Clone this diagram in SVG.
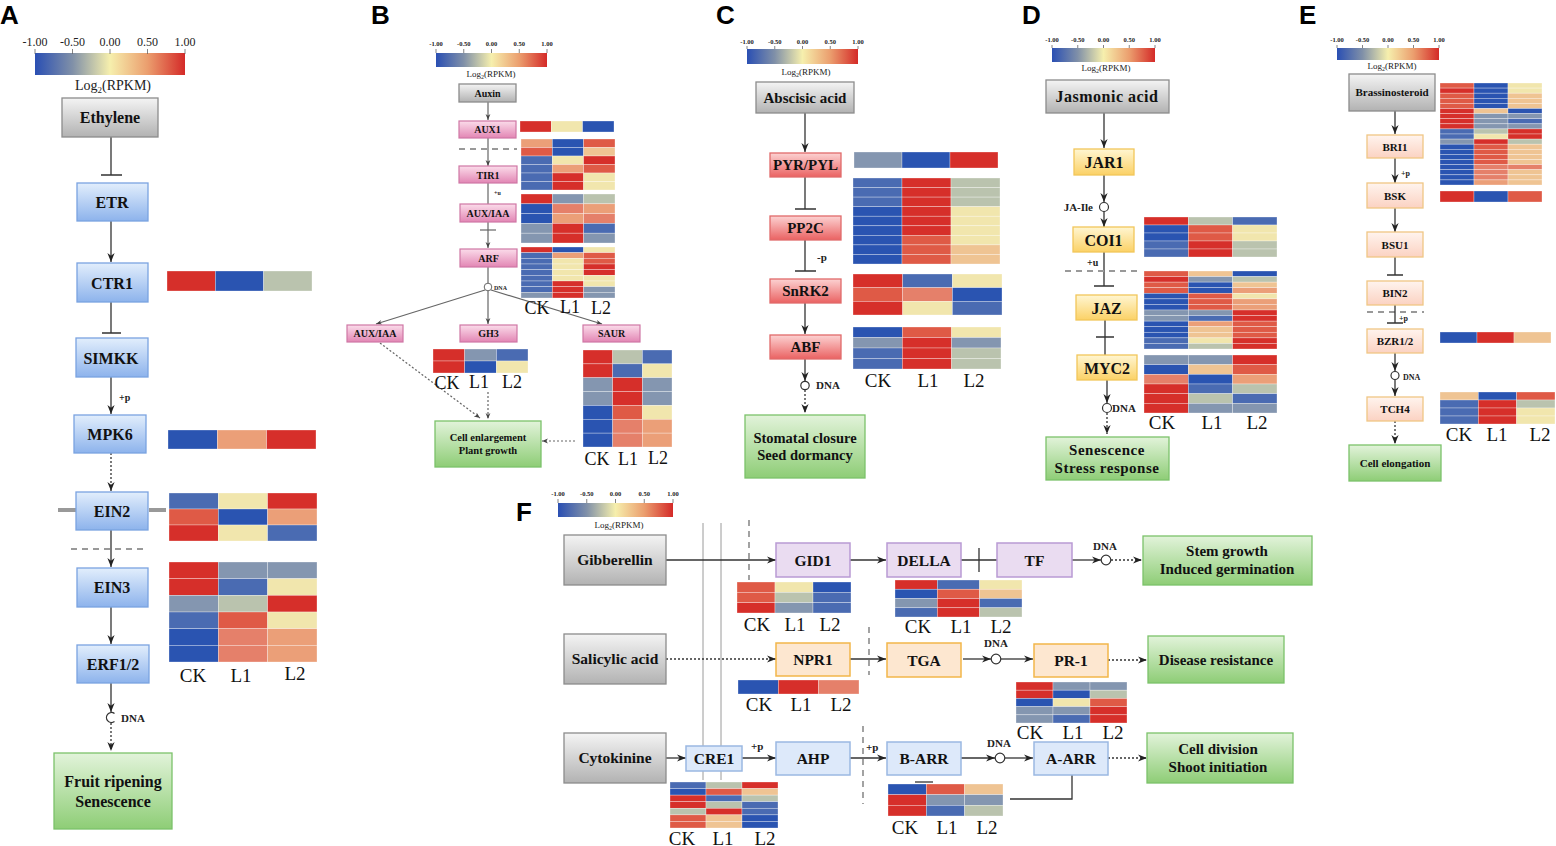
<svg xmlns="http://www.w3.org/2000/svg" width="1556" height="846" viewBox="0 0 1556 846">
<defs>
<linearGradient id="cb" x1="0" y1="0" x2="1" y2="0"><stop offset="0" stop-color="#2a4fb3"/><stop offset=".25" stop-color="#8090a8"/><stop offset=".5" stop-color="#f6efad"/><stop offset=".75" stop-color="#eb9e6e"/><stop offset="1" stop-color="#d42a28"/></linearGradient>
<linearGradient id="gGray" x1="0" y1="0" x2="0" y2="1"><stop offset="0" stop-color="#f4f4f4"/><stop offset="1" stop-color="#b2b2b2"/></linearGradient>
<linearGradient id="gBlue" x1="0" y1="0" x2="0" y2="1"><stop offset="0" stop-color="#e2eefc"/><stop offset="1" stop-color="#8db3ec"/></linearGradient>
<linearGradient id="gPink" x1="0" y1="0" x2="0" y2="1"><stop offset="0" stop-color="#fbdcea"/><stop offset="1" stop-color="#e286b4"/></linearGradient>
<linearGradient id="gRed" x1="0" y1="0" x2="0" y2="1"><stop offset="0" stop-color="#fcd2d2"/><stop offset="1" stop-color="#ea6262"/></linearGradient>
<linearGradient id="gYel" x1="0" y1="0" x2="0" y2="1"><stop offset="0" stop-color="#fff6d2"/><stop offset="1" stop-color="#fbd166"/></linearGradient>
<linearGradient id="gPeach" x1="0" y1="0" x2="0" y2="1"><stop offset="0" stop-color="#fff4ee"/><stop offset="1" stop-color="#fbd2c2"/></linearGradient>
<linearGradient id="gGreen" x1="0" y1="0" x2="0" y2="1"><stop offset="0" stop-color="#e2f3da"/><stop offset="1" stop-color="#8ecd76"/></linearGradient>
<marker id="ar" viewBox="0 0 10 10" refX="10" refY="5" markerWidth="9" markerHeight="9" markerUnits="userSpaceOnUse" orient="auto"><path d="M0,1 L10,5 L0,9 L3,5 z" fill="#222"/></marker>
<marker id="ars" viewBox="0 0 10 10" refX="10" refY="5" markerWidth="6" markerHeight="6" markerUnits="userSpaceOnUse" orient="auto"><path d="M0,1 L10,5 L0,9 L3,5 z" fill="#444"/></marker>
</defs>
<style>
.pl{font-family:"Liberation Sans",Arial,sans-serif;font-weight:bold;font-size:26px;fill:#000}
.n{font-family:"Liberation Serif","Times New Roman",serif;font-weight:bold;text-anchor:middle;fill:#111}
.lb{font-family:"Liberation Serif","Times New Roman",serif;text-anchor:middle;fill:#111}
.tk{font-family:"Liberation Serif","Times New Roman",serif;text-anchor:middle;fill:#222}
.sm{font-family:"Liberation Serif","Times New Roman",serif;font-weight:bold;fill:#222}
.ln{stroke:#333;stroke-width:1.3;fill:none}
.lg{stroke:#666;stroke-width:1.2;fill:none}
.dt{stroke-dasharray:2 2}
.ah{marker-end:url(#ar)}
.as{marker-end:url(#ars)}
.dash{stroke:#999;stroke-width:1.8;fill:none;stroke-dasharray:6 5}
.tick{stroke:#666;stroke-width:.8}
.gray{fill:url(#gGray);stroke:#8c8c8c;stroke-width:1.3}
.blue{fill:url(#gBlue);stroke:#7aa3e0;stroke-width:1.3}
.pink{fill:url(#gPink);stroke:#cf77a5;stroke-width:1.2}
.red{fill:url(#gRed);stroke:#e06a6a;stroke-width:1.3}
.yel{fill:url(#gYel);stroke:#f2c65a;stroke-width:1.3}
.peach{fill:url(#gPeach);stroke:#f0c684;stroke-width:1.3}
.green{fill:url(#gGreen);stroke:#7cc26a;stroke-width:1.3}
.fpur{fill:#eadcf1;stroke:#b99ad4;stroke-width:1.5}
.forg{fill:#fde7d0;stroke:#f2b64a;stroke-width:1.5}
.fblu{fill:#dde9fa;stroke:#9ab8e2;stroke-width:1.5}
.hm rect{stroke:#fff;stroke-opacity:.5;stroke-width:.6}
.R{fill:#d62f2a}.r{fill:#df5a46}.o{fill:#e5806a}.O{fill:#eb9f78}.P{fill:#efc493}.Y{fill:#f1e6ad}.S{fill:#bac3ae}.G{fill:#8496b0}.b{fill:#4a6bb2}.B{fill:#2a54b1}
</style>
<rect width="1556" height="846" fill="#fff"/>

<!-- panel letters -->
<text class="pl" x="0" y="24">A</text>
<text class="pl" x="371" y="24">B</text>
<text class="pl" x="716" y="24">C</text>
<text class="pl" x="1022" y="24">D</text>
<text class="pl" x="1299" y="24">E</text>
<text class="pl" x="516" y="521">F</text>

<!-- legends -->
<g id="legendA">
<rect x="35" y="53" width="150" height="22" fill="url(#cb)"/>
<path class="tick" d="M35,49v5M72.5,49v5M110,49v5M147.5,49v5M185,49v5"/>
<g class="tk" font-size="12"><text x="35" y="46">-1.00</text><text x="72.5" y="46">-0.50</text><text x="110" y="46">0.00</text><text x="147.5" y="46">0.50</text><text x="185" y="46">1.00</text></g>
<text class="tk" x="113" y="90" font-size="14">Log<tspan font-size="9" dy="3">2</tspan><tspan dy="-3">(RPKM)</tspan></text>
</g>
<g id="legendB">
<rect x="436" y="53" width="111" height="14" fill="url(#cb)"/>
<path class="tick" d="M436,49v4M463.75,49v4M491.5,49v4M519.25,49v4M547,49v4"/>
<g class="tk" font-size="6.5" font-weight="bold"><text x="436" y="46">-1.00</text><text x="463.75" y="46">-0.50</text><text x="491.5" y="46">0.00</text><text x="519.25" y="46">0.50</text><text x="547" y="46">1.00</text></g>
<text class="tk" x="491" y="77" font-size="9">Log<tspan font-size="6" dy="2">2</tspan><tspan dy="-2">(RPKM)</tspan></text>
</g>
<g id="legendC">
<rect x="747" y="49" width="111" height="15" fill="url(#cb)"/>
<path class="tick" d="M747,46v3M774.75,46v3M802.5,46v3M830.25,46v3M858,46v3"/>
<g class="tk" font-size="6.5" font-weight="bold"><text x="747" y="44">-1.00</text><text x="774.75" y="44">-0.50</text><text x="802.5" y="44">0.00</text><text x="830.25" y="44">0.50</text><text x="858" y="44">1.00</text></g>
<text class="tk" x="806" y="75" font-size="9">Log<tspan font-size="6" dy="2">2</tspan><tspan dy="-2">(RPKM)</tspan></text>
</g>
<g id="legendD">
<rect x="1052" y="48" width="103" height="14" fill="url(#cb)"/>
<path class="tick" d="M1052,45v3M1077.75,45v3M1103.5,45v3M1129.25,45v3M1155,45v3"/>
<g class="tk" font-size="6.5" font-weight="bold"><text x="1052" y="42">-1.00</text><text x="1077.75" y="42">-0.50</text><text x="1103.5" y="42">0.00</text><text x="1129.25" y="42">0.50</text><text x="1155" y="42">1.00</text></g>
<text class="tk" x="1106" y="71" font-size="9">Log<tspan font-size="6" dy="2">2</tspan><tspan dy="-2">(RPKM)</tspan></text>
</g>
<g id="legendE">
<rect x="1337" y="48" width="102" height="12" fill="url(#cb)"/>
<path class="tick" d="M1337,45v3M1362.5,45v3M1388,45v3M1413.5,45v3M1439,45v3"/>
<g class="tk" font-size="6.5" font-weight="bold"><text x="1337" y="42">-1.00</text><text x="1362.5" y="42">-0.50</text><text x="1388" y="42">0.00</text><text x="1413.5" y="42">0.50</text><text x="1439" y="42">1.00</text></g>
<text class="tk" x="1392" y="69" font-size="9">Log<tspan font-size="6" dy="2">2</tspan><tspan dy="-2">(RPKM)</tspan></text>
</g>
<g id="legendF">
<rect x="558" y="503" width="115" height="14" fill="url(#cb)"/>
<path class="tick" d="M558,499v4M586.75,499v4M615.5,499v4M644.25,499v4M673,499v4"/>
<g class="tk" font-size="6.5" font-weight="bold"><text x="558" y="496">-1.00</text><text x="586.75" y="496">-0.50</text><text x="615.5" y="496">0.00</text><text x="644.25" y="496">0.50</text><text x="673" y="496">1.00</text></g>
<text class="tk" x="619" y="528" font-size="9">Log<tspan font-size="6" dy="2">2</tspan><tspan dy="-2">(RPKM)</tspan></text>
</g>

<!-- connectors -->
<g id="connectors">
<!-- A -->
<path class="ln" d="M111,137V175M101,175H122"/>
<path class="ln ah" d="M111,221V262"/>
<path class="ln" d="M111,302V333M102,333H121"/>
<path class="ln ah" d="M111,377V414"/>
<path class="ln dt ah" d="M111,453V491"/>
<path d="M58,510H76M149,510H166" stroke="#999" stroke-width="4"/>
<path class="dash" d="M71,549H144"/>
<path class="ln ah" d="M111,530V567"/>
<path class="ln ah" d="M111,607V644"/>
<path class="ln ah" d="M111,683V712"/>
<path class="ln" d="M114.5,713.5A5,5 0 1,0 114.5,721.5"/>
<path class="ln dt ah" d="M111,723V751"/>
<!-- B -->
<path class="lg as" d="M488,102V120"/>
<path class="dash" d="M459,149H517" stroke-width="1.2" stroke-dasharray="5 4"/>
<path class="lg as" d="M488,138V166"/>
<path class="lg" d="M488,183V204"/>
<path class="lg as" d="M488,222V248"/>
<path class="lg" d="M480,230H496"/>
<path class="lg" d="M488,267V283"/>
<circle cx="488" cy="287" r="3.8" fill="#fff" stroke="#666" stroke-width="1"/>
<path class="lg as" d="M485,290L376,324"/>
<path class="lg as" d="M488,291V324"/>
<path class="lg as" d="M491,290L602,324"/>
<path class="lg dt as" d="M380,343L480,418"/>
<path class="lg dt as" d="M488,392V419"/>
<path class="lg dt as" d="M575,441H542"/>
<!-- C -->
<path class="ln ah" d="M805,113V152"/>
<path class="ln" d="M805,177V209M795,209H816"/>
<path class="ln" d="M805,240V271M795,271H816"/>
<path class="ln ah" d="M805,303V334"/>
<path class="ln ah" d="M805,359V381"/>
<circle cx="805" cy="385.5" r="4.2" fill="#fff" stroke="#333" stroke-width="1.2"/>
<path class="ln dt ah" d="M805,390V413"/>
<!-- D -->
<path class="ln ah" d="M1104,113V148"/>
<path class="ln ah" d="M1104,175V202"/>
<circle cx="1104" cy="207" r="4.5" fill="#fff" stroke="#333" stroke-width="1.2"/>
<path class="ln ah" d="M1104,211.5V227"/>
<path class="ln" d="M1104,252V286M1094,286H1114"/>
<path class="dash" d="M1065,271H1142"/>
<path class="ln" d="M1105,320V355M1096,337H1114"/>
<path class="ln ah" d="M1107,380V403"/>
<circle cx="1107" cy="408" r="4.5" fill="#fff" stroke="#333" stroke-width="1.2"/>
<path class="ln dt ah" d="M1107,413V434"/>
<!-- E -->
<path class="ln ah" d="M1395,111V134"/>
<path class="ln ah" d="M1395,158V183"/>
<path class="ln ah" d="M1395,208V232"/>
<path class="ln" d="M1395,257V275M1387,275H1403"/>
<path class="dash" d="M1367,312H1424" stroke-width="1.3"/>
<path class="ln" d="M1395,305V323M1387,323H1403"/>
<path class="ln ah" d="M1395,353V371"/>
<circle cx="1395" cy="375.5" r="4" fill="#fff" stroke="#333" stroke-width="1.2"/>
<path class="ln ah" d="M1395,380V396"/>
<path class="ln dt ah" d="M1395,421V444"/>
<!-- F -->
<path d="M703,523V780M721,523V780" stroke="#9a9a9a" stroke-width="1"/>
<path class="dash" d="M749,520V580"/>
<path class="dash" d="M869,627V675"/>
<path class="dash" d="M863,726V804"/>
<path class="ln ah" d="M666,560H776"/>
<path class="ln ah" d="M850,560H886"/>
<path class="ln" d="M961,560H997M979,548V572"/>
<path class="ln ah" d="M1072,560H1101"/>
<circle cx="1106" cy="560" r="4.8" fill="#fff" stroke="#333" stroke-width="1.2"/>
<path class="ln dt ah" d="M1111,560H1142"/>
<path class="ln dt ah" d="M666,659H776"/>
<path class="ln ah" d="M850,659H886"/>
<path class="ln ah" d="M963,659H991"/>
<circle cx="996" cy="659" r="4.8" fill="#fff" stroke="#333" stroke-width="1.2"/>
<path class="ln ah" d="M1001,659H1033"/>
<path class="ln dt ah" d="M1108,660H1147"/>
<path class="ln ah" d="M666,758H686"/>
<path class="ln ah" d="M742,758H776"/>
<path class="ln ah" d="M850,758H886"/>
<path class="ln ah" d="M961,758H995"/>
<circle cx="1000" cy="758" r="4.8" fill="#fff" stroke="#333" stroke-width="1.2"/>
<path class="ln ah" d="M1005,758H1033"/>
<path class="ln dt ah" d="M1108,758H1147"/>
<path class="ln" d="M1072,775V799H1010"/>
<path class="ln" d="M915,782H933"/>
</g>

<!-- small labels -->
<g id="edge-labels">
<text class="sm" x="119" y="401" font-size="10">+p</text>
<text class="sm" x="121" y="722" font-size="11">DNA</text>
<text class="sm" x="494" y="195" font-size="6">+u</text>
<text class="sm" x="494" y="290" font-size="6">DNA</text>
<text class="sm" x="817" y="261" font-size="11">-p</text>
<text class="sm" x="816" y="389" font-size="11">DNA</text>
<text class="sm" x="1093" y="211" font-size="11" text-anchor="end">JA-Ile</text>
<text class="sm" x="1087" y="266" font-size="10">+u</text>
<text class="sm" x="1112" y="412" font-size="11" font-weight="normal">DNA</text>
<text class="sm" x="1401" y="176" font-size="8">+p</text>
<text class="sm" x="1399" y="321" font-size="8">+p</text>
<text class="sm" x="1403" y="380" font-size="8">DNA</text>
<text class="sm" x="1105" y="550" font-size="11" text-anchor="middle">DNA</text>
<text class="sm" x="996" y="647" font-size="11" text-anchor="middle">DNA</text>
<text class="sm" x="999" y="747" font-size="11" text-anchor="middle">DNA</text>
<text class="sm" x="751" y="750" font-size="11">+p</text>
<text class="sm" x="866" y="751" font-size="11">+p</text>
</g>

<!-- Panel A nodes -->
<g id="A-Ethylene"><rect class="gray" x="62" y="98" width="96" height="39"/><text class="n" x="110" y="123" font-size="16">Ethylene</text></g>
<g id="A-ETR"><rect class="blue" x="77" y="183" width="71" height="38"/><text class="n" x="112" y="208" font-size="16">ETR</text></g>
<g id="A-CTR1"><rect class="blue" x="77" y="263" width="71" height="39"/><text class="n" x="112" y="289" font-size="16">CTR1</text></g>
<g id="A-SIMKK"><rect class="blue" x="76" y="338" width="72" height="39"/><text class="n" x="111" y="364" font-size="16">SIMKK</text></g>
<g id="A-MPK6"><rect class="blue" x="74" y="415" width="72" height="38"/><text class="n" x="110" y="440" font-size="16">MPK6</text></g>
<g id="A-EIN2"><rect class="blue" x="76" y="492" width="72" height="38"/><text class="n" x="112" y="517" font-size="16">EIN2</text></g>
<g id="A-EIN3"><rect class="blue" x="77" y="568" width="71" height="39"/><text class="n" x="112" y="593" font-size="16">EIN3</text></g>
<g id="A-ERF"><rect class="blue" x="77" y="645" width="72" height="38"/><text class="n" x="113" y="670" font-size="16">ERF1/2</text></g>
<g id="A-Fruit"><rect class="green" x="54" y="753" width="118" height="76"/><text class="n" x="113" y="787" font-size="16">Fruit ripening</text><text class="n" x="113" y="807" font-size="16">Senescence</text></g>

<!-- Panel B nodes -->
<g id="B-Auxin"><rect class="gray" x="459" y="84" width="57" height="18"/><text class="n" x="487.5" y="97" font-size="10">Auxin</text></g>
<g id="B-AUX1"><rect class="pink" x="459" y="121" width="57" height="17"/><text class="n" x="487.5" y="133" font-size="10">AUX1</text></g>
<g id="B-TIR1"><rect class="pink" x="459" y="166" width="58" height="17"/><text class="n" x="488" y="179" font-size="10">TIR1</text></g>
<g id="B-AUXIAA"><rect class="pink" x="460" y="204" width="56" height="18"/><text class="n" x="488" y="217" font-size="10">AUX/IAA</text></g>
<g id="B-ARF"><rect class="pink" x="460" y="249" width="57" height="18"/><text class="n" x="488.5" y="262" font-size="10">ARF</text></g>
<g id="B-AUXIAA2"><rect class="pink" x="347" y="325" width="56" height="17"/><text class="n" x="375" y="337" font-size="10">AUX/IAA</text></g>
<g id="B-GH3"><rect class="pink" x="460" y="325" width="57" height="17"/><text class="n" x="488.5" y="337" font-size="10">GH3</text></g>
<g id="B-SAUR"><rect class="pink" x="583" y="325" width="57" height="17"/><text class="n" x="611.5" y="337" font-size="10">SAUR</text></g>
<g id="B-Cell"><rect class="green" x="435" y="421" width="106" height="46"/><text class="n" x="488" y="441" font-size="10.5">Cell enlargement</text><text class="n" x="488" y="454" font-size="10.5">Plant growth</text></g>

<!-- Panel C nodes -->
<g id="C-ABA"><rect class="gray" x="756" y="82" width="98" height="31"/><text class="n" x="805" y="103" font-size="15">Abscisic acid</text></g>
<g id="C-PYR"><rect class="red" x="770" y="153" width="71" height="24"/><text class="n" x="805.5" y="170" font-size="15">PYR/PYL</text></g>
<g id="C-PP2C"><rect class="red" x="770" y="216" width="71" height="24"/><text class="n" x="805.5" y="233" font-size="15">PP2C</text></g>
<g id="C-SnRK2"><rect class="red" x="770" y="279" width="71" height="24"/><text class="n" x="805.5" y="296" font-size="15">SnRK2</text></g>
<g id="C-ABF"><rect class="red" x="770" y="335" width="71" height="24"/><text class="n" x="805.5" y="352" font-size="15">ABF</text></g>
<g id="C-Stomatal"><rect class="green" x="745" y="415" width="120" height="63"/><text class="n" x="805" y="443" font-size="14.5">Stomatal closure</text><text class="n" x="805" y="460" font-size="14.5">Seed dormancy</text></g>

<!-- Panel D nodes -->
<g id="D-JA"><rect class="gray" x="1046" y="80" width="123" height="33"/><text class="n" x="1107" y="102" font-size="16" letter-spacing=".5">Jasmonic acid</text></g>
<g id="D-JAR1"><rect class="yel" x="1074" y="149" width="60" height="26"/><text class="n" x="1104" y="168" font-size="16">JAR1</text></g>
<g id="D-COI1"><rect class="yel" x="1073" y="227" width="61" height="25"/><text class="n" x="1103.5" y="246" font-size="16">COI1</text></g>
<g id="D-JAZ"><rect class="yel" x="1076" y="295" width="61" height="25"/><text class="n" x="1106.5" y="314" font-size="16">JAZ</text></g>
<g id="D-MYC2"><rect class="yel" x="1077" y="355" width="60" height="25"/><text class="n" x="1107" y="374" font-size="16">MYC2</text></g>
<g id="D-Sen"><rect class="green" x="1046" y="437" width="123" height="43"/><text class="n" x="1107" y="455" font-size="15" letter-spacing=".5">Senescence</text><text class="n" x="1107" y="473" font-size="15" letter-spacing=".5">Stress response</text></g>

<!-- Panel E nodes -->
<g id="E-BR"><rect class="gray" x="1349" y="74" width="86" height="37"/><text class="n" x="1392" y="96" font-size="11">Brassinosteroid</text></g>
<g id="E-BRI1"><rect class="peach" x="1367" y="135" width="56" height="23"/><text class="n" x="1395" y="151" font-size="11">BRI1</text></g>
<g id="E-BSK"><rect class="peach" x="1367" y="183" width="56" height="25"/><text class="n" x="1395" y="200" font-size="11">BSK</text></g>
<g id="E-BSU1"><rect class="peach" x="1367" y="232" width="56" height="25"/><text class="n" x="1395" y="249" font-size="11">BSU1</text></g>
<g id="E-BIN2"><rect class="peach" x="1367" y="281" width="56" height="24"/><text class="n" x="1395" y="297" font-size="11">BIN2</text></g>
<g id="E-BZR"><rect class="peach" x="1367" y="329" width="56" height="24"/><text class="n" x="1395" y="345" font-size="11">BZR1/2</text></g>
<g id="E-TCH4"><rect class="peach" x="1367" y="397" width="56" height="24"/><text class="n" x="1395" y="413" font-size="11">TCH4</text></g>
<g id="E-Cell"><rect class="green" x="1349" y="445" width="92" height="36"/><text class="n" x="1395" y="467" font-size="11">Cell elongation</text></g>

<!-- Panel F nodes -->
<g id="F-Gib"><rect class="gray" x="564" y="535" width="102" height="50"/><text class="n" x="615" y="565" font-size="15.5">Gibberellin</text></g>
<g id="F-SA"><rect class="gray" x="564" y="634" width="102" height="50"/><text class="n" x="615" y="664" font-size="15.5">Salicylic acid</text></g>
<g id="F-CK"><rect class="gray" x="564" y="733" width="102" height="50"/><text class="n" x="615" y="763" font-size="15.5">Cytokinine</text></g>
<g id="F-GID1"><rect class="fpur" x="776" y="543" width="74" height="34"/><text class="n" x="813" y="566" font-size="15.5">GID1</text></g>
<g id="F-DELLA"><rect class="fpur" x="887" y="543" width="74" height="34"/><text class="n" x="924" y="566" font-size="15.5">DELLA</text></g>
<g id="F-TF"><rect class="fpur" x="997" y="543" width="75" height="34"/><text class="n" x="1034.5" y="566" font-size="15.5">TF</text></g>
<g id="F-Stem"><rect class="green" x="1143" y="536" width="169" height="49"/><text class="n" x="1227" y="556" font-size="15">Stem growth</text><text class="n" x="1227" y="574" font-size="15">Induced germination</text></g>
<g id="F-NPR1"><rect class="forg" x="776" y="643" width="74" height="33"/><text class="n" x="813" y="665" font-size="15.5">NPR1</text></g>
<g id="F-TGA"><rect class="forg" x="887" y="643" width="74" height="34"/><text class="n" x="924" y="666" font-size="15.5">TGA</text></g>
<g id="F-PR1"><rect class="forg" x="1034" y="644" width="74" height="33"/><text class="n" x="1071" y="666" font-size="15.5">PR-1</text></g>
<g id="F-Dis"><rect class="green" x="1148" y="636" width="136" height="47"/><text class="n" x="1216" y="665" font-size="15">Disease resistance</text></g>
<g id="F-CRE1"><rect class="fblu" x="686" y="746" width="56" height="25"/><text class="n" x="714" y="764" font-size="15.5">CRE1</text></g>
<g id="F-AHP"><rect class="fblu" x="776" y="742" width="74" height="33"/><text class="n" x="813" y="764" font-size="15.5">AHP</text></g>
<g id="F-BARR"><rect class="fblu" x="887" y="742" width="74" height="33"/><text class="n" x="924" y="764" font-size="15.5">B-ARR</text></g>
<g id="F-AARR"><rect class="fblu" x="1034" y="742" width="74" height="33"/><text class="n" x="1071" y="764" font-size="15.5">A-ARR</text></g>
<g id="F-CellDiv"><rect class="green" x="1147" y="733" width="146" height="50"/><text class="n" x="1218" y="754" font-size="15">Cell division</text><text class="n" x="1218" y="772" font-size="15">Shoot initiation</text></g>

<!-- heatmaps -->
<g id="heatmaps">
<g class="hm" transform="translate(167,271)"><rect x="0" y="0" width="48.3" height="20" class="R"/><rect x="48.3" y="0" width="48.3" height="20" class="B"/><rect x="96.6" y="0" width="48.4" height="20" class="S"/></g>
<g class="hm" transform="translate(168,430)"><rect x="0" y="0" width="49.3" height="19" class="B"/><rect x="49.3" y="0" width="49.3" height="19" class="O"/><rect x="98.6" y="0" width="49.4" height="19" class="R"/></g>
<g class="hm" transform="translate(169,493)">
<rect x="0" y="0" width="49.3" height="16" class="b"/><rect x="49.3" y="0" width="49.3" height="16" class="Y"/><rect x="98.6" y="0" width="49.4" height="16" class="R"/>
<rect x="0" y="16" width="49.3" height="16" class="r"/><rect x="49.3" y="16" width="49.3" height="16" class="B"/><rect x="98.6" y="16" width="49.4" height="16" class="O"/>
<rect x="0" y="32" width="49.3" height="16" class="R"/><rect x="49.3" y="32" width="49.3" height="16" class="Y"/><rect x="98.6" y="32" width="49.4" height="16" class="b"/>
</g>
<g class="hm" transform="translate(169,562)">
<rect x="0" y="0" width="49.3" height="16.67" class="R"/><rect x="49.3" y="0" width="49.3" height="16.67" class="G"/><rect x="98.6" y="0" width="49.4" height="16.67" class="G"/>
<rect x="0" y="16.67" width="49.3" height="16.67" class="R"/><rect x="49.3" y="16.67" width="49.3" height="16.67" class="b"/><rect x="98.6" y="16.67" width="49.4" height="16.67" class="Y"/>
<rect x="0" y="33.33" width="49.3" height="16.67" class="G"/><rect x="49.3" y="33.33" width="49.3" height="16.67" class="S"/><rect x="98.6" y="33.33" width="49.4" height="16.67" class="R"/>
<rect x="0" y="50" width="49.3" height="16.67" class="b"/><rect x="49.3" y="50" width="49.3" height="16.67" class="r"/><rect x="98.6" y="50" width="49.4" height="16.67" class="Y"/>
<rect x="0" y="66.67" width="49.3" height="16.67" class="B"/><rect x="49.3" y="66.67" width="49.3" height="16.67" class="o"/><rect x="98.6" y="66.67" width="49.4" height="16.67" class="O"/>
<rect x="0" y="83.33" width="49.3" height="16.67" class="B"/><rect x="49.3" y="83.33" width="49.3" height="16.67" class="o"/><rect x="98.6" y="83.33" width="49.4" height="16.67" class="O"/>
</g>
<!-- B -->
<g class="hm" transform="translate(520,121)"><rect x="0" y="0" width="31.3" height="11" class="R"/><rect x="31.3" y="0" width="31.3" height="11" class="Y"/><rect x="62.6" y="0" width="31.4" height="11" class="B"/></g>
<g class="hm" transform="translate(521,139)">
<rect x="0" y="0" width="31.3" height="8.5" class="O"/><rect x="31.3" y="0" width="31.3" height="8.5" class="B"/><rect x="62.6" y="0" width="31.4" height="8.5" class="r"/>
<rect x="0" y="8.5" width="31.3" height="8.5" class="r"/><rect x="31.3" y="8.5" width="31.3" height="8.5" class="B"/><rect x="62.6" y="8.5" width="31.4" height="8.5" class="P"/>
<rect x="0" y="17" width="31.3" height="8.5" class="b"/><rect x="31.3" y="17" width="31.3" height="8.5" class="Y"/><rect x="62.6" y="17" width="31.4" height="8.5" class="R"/>
<rect x="0" y="25.5" width="31.3" height="8.5" class="b"/><rect x="31.3" y="25.5" width="31.3" height="8.5" class="O"/><rect x="62.6" y="25.5" width="31.4" height="8.5" class="r"/>
<rect x="0" y="34" width="31.3" height="8.5" class="b"/><rect x="31.3" y="34" width="31.3" height="8.5" class="R"/><rect x="62.6" y="34" width="31.4" height="8.5" class="Y"/>
<rect x="0" y="42.5" width="31.3" height="8.5" class="b"/><rect x="31.3" y="42.5" width="31.3" height="8.5" class="R"/><rect x="62.6" y="42.5" width="31.4" height="8.5" class="Y"/>
</g>
<g class="hm" transform="translate(521,194)">
<rect x="0" y="0" width="31.3" height="9.8" class="R"/><rect x="31.3" y="0" width="31.3" height="9.8" class="G"/><rect x="62.6" y="0" width="31.4" height="9.8" class="S"/>
<rect x="0" y="9.8" width="31.3" height="9.8" class="B"/><rect x="31.3" y="9.8" width="31.3" height="9.8" class="o"/><rect x="62.6" y="9.8" width="31.4" height="9.8" class="O"/>
<rect x="0" y="19.6" width="31.3" height="9.8" class="B"/><rect x="31.3" y="19.6" width="31.3" height="9.8" class="O"/><rect x="62.6" y="19.6" width="31.4" height="9.8" class="o"/>
<rect x="0" y="29.4" width="31.3" height="9.8" class="G"/><rect x="31.3" y="29.4" width="31.3" height="9.8" class="R"/><rect x="62.6" y="29.4" width="31.4" height="9.8" class="b"/>
<rect x="0" y="39.2" width="31.3" height="9.8" class="G"/><rect x="31.3" y="39.2" width="31.3" height="9.8" class="R"/><rect x="62.6" y="39.2" width="31.4" height="9.8" class="G"/>
</g>
<g class="hm" transform="translate(521,247)">
<rect x="0" y="0" width="31.3" height="5.67" class="R"/><rect x="31.3" y="0" width="31.3" height="5.67" class="B"/><rect x="62.6" y="0" width="31.4" height="5.67" class="Y"/>
<rect x="0" y="5.67" width="31.3" height="5.67" class="b"/><rect x="31.3" y="5.67" width="31.3" height="5.67" class="O"/><rect x="62.6" y="5.67" width="31.4" height="5.67" class="r"/>
<rect x="0" y="11.33" width="31.3" height="5.67" class="b"/><rect x="31.3" y="11.33" width="31.3" height="5.67" class="Y"/><rect x="62.6" y="11.33" width="31.4" height="5.67" class="r"/>
<rect x="0" y="17" width="31.3" height="5.67" class="b"/><rect x="31.3" y="17" width="31.3" height="5.67" class="Y"/><rect x="62.6" y="17" width="31.4" height="5.67" class="R"/>
<rect x="0" y="22.67" width="31.3" height="5.67" class="b"/><rect x="31.3" y="22.67" width="31.3" height="5.67" class="Y"/><rect x="62.6" y="22.67" width="31.4" height="5.67" class="R"/>
<rect x="0" y="28.33" width="31.3" height="5.67" class="b"/><rect x="31.3" y="28.33" width="31.3" height="5.67" class="Y"/><rect x="62.6" y="28.33" width="31.4" height="5.67" class="Y"/>
<rect x="0" y="34" width="31.3" height="5.67" class="b"/><rect x="31.3" y="34" width="31.3" height="5.67" class="R"/><rect x="62.6" y="34" width="31.4" height="5.67" class="Y"/>
<rect x="0" y="39.67" width="31.3" height="5.67" class="b"/><rect x="31.3" y="39.67" width="31.3" height="5.67" class="R"/><rect x="62.6" y="39.67" width="31.4" height="5.67" class="G"/>
<rect x="0" y="45.33" width="31.3" height="5.67" class="G"/><rect x="31.3" y="45.33" width="31.3" height="5.67" class="R"/><rect x="62.6" y="45.33" width="31.4" height="5.67" class="G"/>
</g>
<g class="hm" transform="translate(433,349)">
<rect x="0" y="0" width="31.7" height="12" class="R"/><rect x="31.7" y="0" width="31.7" height="12" class="G"/><rect x="63.4" y="0" width="31.6" height="12" class="b"/>
<rect x="0" y="12" width="31.7" height="12" class="R"/><rect x="31.7" y="12" width="31.7" height="12" class="B"/><rect x="63.4" y="12" width="31.6" height="12" class="Y"/>
</g>
<g class="hm" transform="translate(583,350)">
<rect x="0" y="0" width="29.7" height="13.86" class="R"/><rect x="29.7" y="0" width="29.7" height="13.86" class="S"/><rect x="59.4" y="0" width="29.6" height="13.86" class="b"/>
<rect x="0" y="13.86" width="29.7" height="13.86" class="R"/><rect x="29.7" y="13.86" width="29.7" height="13.86" class="b"/><rect x="59.4" y="13.86" width="29.6" height="13.86" class="Y"/>
<rect x="0" y="27.71" width="29.7" height="13.86" class="G"/><rect x="29.7" y="27.71" width="29.7" height="13.86" class="R"/><rect x="59.4" y="27.71" width="29.6" height="13.86" class="G"/>
<rect x="0" y="41.57" width="29.7" height="13.86" class="G"/><rect x="29.7" y="41.57" width="29.7" height="13.86" class="R"/><rect x="59.4" y="41.57" width="29.6" height="13.86" class="G"/>
<rect x="0" y="55.43" width="29.7" height="13.86" class="B"/><rect x="29.7" y="55.43" width="29.7" height="13.86" class="r"/><rect x="59.4" y="55.43" width="29.6" height="13.86" class="Y"/>
<rect x="0" y="69.29" width="29.7" height="13.86" class="B"/><rect x="29.7" y="69.29" width="29.7" height="13.86" class="o"/><rect x="59.4" y="69.29" width="29.6" height="13.86" class="O"/>
<rect x="0" y="83.14" width="29.7" height="13.86" class="B"/><rect x="29.7" y="83.14" width="29.7" height="13.86" class="o"/><rect x="59.4" y="83.14" width="29.6" height="13.86" class="O"/>
</g>
<!-- C -->
<g class="hm" transform="translate(854,152)"><rect x="0" y="0" width="48" height="16" class="G"/><rect x="48" y="0" width="48" height="16" class="B"/><rect x="96" y="0" width="48" height="16" class="R"/></g>
<g class="hm" transform="translate(853,178)">
<rect x="0" y="0" width="49" height="9.56" class="b"/><rect x="49" y="0" width="49" height="9.56" class="R"/><rect x="98" y="0" width="49" height="9.56" class="S"/>
<rect x="0" y="9.56" width="49" height="9.56" class="b"/><rect x="49" y="9.56" width="49" height="9.56" class="R"/><rect x="98" y="9.56" width="49" height="9.56" class="S"/>
<rect x="0" y="19.11" width="49" height="9.56" class="b"/><rect x="49" y="19.11" width="49" height="9.56" class="R"/><rect x="98" y="19.11" width="49" height="9.56" class="S"/>
<rect x="0" y="28.67" width="49" height="9.56" class="B"/><rect x="49" y="28.67" width="49" height="9.56" class="R"/><rect x="98" y="28.67" width="49" height="9.56" class="Y"/>
<rect x="0" y="38.22" width="49" height="9.56" class="B"/><rect x="49" y="38.22" width="49" height="9.56" class="R"/><rect x="98" y="38.22" width="49" height="9.56" class="Y"/>
<rect x="0" y="47.78" width="49" height="9.56" class="B"/><rect x="49" y="47.78" width="49" height="9.56" class="R"/><rect x="98" y="47.78" width="49" height="9.56" class="Y"/>
<rect x="0" y="57.33" width="49" height="9.56" class="B"/><rect x="49" y="57.33" width="49" height="9.56" class="r"/><rect x="98" y="57.33" width="49" height="9.56" class="Y"/>
<rect x="0" y="66.89" width="49" height="9.56" class="B"/><rect x="49" y="66.89" width="49" height="9.56" class="r"/><rect x="98" y="66.89" width="49" height="9.56" class="P"/>
<rect x="0" y="76.44" width="49" height="9.56" class="B"/><rect x="49" y="76.44" width="49" height="9.56" class="r"/><rect x="98" y="76.44" width="49" height="9.56" class="P"/>
</g>
<g class="hm" transform="translate(853,274)">
<rect x="0" y="0" width="49.7" height="13.67" class="R"/><rect x="49.7" y="0" width="49.7" height="13.67" class="b"/><rect x="99.4" y="0" width="49.6" height="13.67" class="Y"/>
<rect x="0" y="13.67" width="49.7" height="13.67" class="r"/><rect x="49.7" y="13.67" width="49.7" height="13.67" class="o"/><rect x="99.4" y="13.67" width="49.6" height="13.67" class="B"/>
<rect x="0" y="27.33" width="49.7" height="13.67" class="R"/><rect x="49.7" y="27.33" width="49.7" height="13.67" class="Y"/><rect x="99.4" y="27.33" width="49.6" height="13.67" class="b"/>
</g>
<g class="hm" transform="translate(853,327)">
<rect x="0" y="0" width="49.3" height="10.5" class="B"/><rect x="49.3" y="0" width="49.3" height="10.5" class="r"/><rect x="98.6" y="0" width="49.4" height="10.5" class="Y"/>
<rect x="0" y="10.5" width="49.3" height="10.5" class="G"/><rect x="49.3" y="10.5" width="49.3" height="10.5" class="R"/><rect x="98.6" y="10.5" width="49.4" height="10.5" class="G"/>
<rect x="0" y="21" width="49.3" height="10.5" class="b"/><rect x="49.3" y="21" width="49.3" height="10.5" class="R"/><rect x="98.6" y="21" width="49.4" height="10.5" class="S"/>
<rect x="0" y="31.5" width="49.3" height="10.5" class="b"/><rect x="49.3" y="31.5" width="49.3" height="10.5" class="R"/><rect x="98.6" y="31.5" width="49.4" height="10.5" class="S"/>
</g>
<!-- D -->
<g class="hm" transform="translate(1144,217)">
<rect x="0" y="0" width="44.3" height="8" class="R"/><rect x="44.3" y="0" width="44.3" height="8" class="S"/><rect x="88.6" y="0" width="44.4" height="8" class="b"/>
<rect x="0" y="8" width="44.3" height="8" class="B"/><rect x="44.3" y="8" width="44.3" height="8" class="r"/><rect x="88.6" y="8" width="44.4" height="8" class="Y"/>
<rect x="0" y="16" width="44.3" height="8" class="B"/><rect x="44.3" y="16" width="44.3" height="8" class="r"/><rect x="88.6" y="16" width="44.4" height="8" class="Y"/>
<rect x="0" y="24" width="44.3" height="8" class="b"/><rect x="44.3" y="24" width="44.3" height="8" class="R"/><rect x="88.6" y="24" width="44.4" height="8" class="S"/>
<rect x="0" y="32" width="44.3" height="8" class="b"/><rect x="44.3" y="32" width="44.3" height="8" class="R"/><rect x="88.6" y="32" width="44.4" height="8" class="S"/>
</g>
<g class="hm" transform="translate(1144,271)">
<rect x="0" y="0" width="44.3" height="5.57" class="r"/><rect x="44.3" y="0" width="44.3" height="5.57" class="P"/><rect x="88.6" y="0" width="44.4" height="5.57" class="B"/>
<rect x="0" y="5.57" width="44.3" height="5.57" class="R"/><rect x="44.3" y="5.57" width="44.3" height="5.57" class="G"/><rect x="88.6" y="5.57" width="44.4" height="5.57" class="S"/>
<rect x="0" y="11.14" width="44.3" height="5.57" class="r"/><rect x="44.3" y="11.14" width="44.3" height="5.57" class="B"/><rect x="88.6" y="11.14" width="44.4" height="5.57" class="P"/>
<rect x="0" y="16.71" width="44.3" height="5.57" class="r"/><rect x="44.3" y="16.71" width="44.3" height="5.57" class="B"/><rect x="88.6" y="16.71" width="44.4" height="5.57" class="O"/>
<rect x="0" y="22.29" width="44.3" height="5.57" class="B"/><rect x="44.3" y="22.29" width="44.3" height="5.57" class="r"/><rect x="88.6" y="22.29" width="44.4" height="5.57" class="Y"/>
<rect x="0" y="27.86" width="44.3" height="5.57" class="B"/><rect x="44.3" y="27.86" width="44.3" height="5.57" class="r"/><rect x="88.6" y="27.86" width="44.4" height="5.57" class="O"/>
<rect x="0" y="33.43" width="44.3" height="5.57" class="B"/><rect x="44.3" y="33.43" width="44.3" height="5.57" class="r"/><rect x="88.6" y="33.43" width="44.4" height="5.57" class="O"/>
<rect x="0" y="39" width="44.3" height="5.57" class="G"/><rect x="44.3" y="39" width="44.3" height="5.57" class="G"/><rect x="88.6" y="39" width="44.4" height="5.57" class="R"/>
<rect x="0" y="44.57" width="44.3" height="5.57" class="G"/><rect x="44.3" y="44.57" width="44.3" height="5.57" class="b"/><rect x="88.6" y="44.57" width="44.4" height="5.57" class="R"/>
<rect x="0" y="50.14" width="44.3" height="5.57" class="B"/><rect x="44.3" y="50.14" width="44.3" height="5.57" class="O"/><rect x="88.6" y="50.14" width="44.4" height="5.57" class="r"/>
<rect x="0" y="55.71" width="44.3" height="5.57" class="B"/><rect x="44.3" y="55.71" width="44.3" height="5.57" class="P"/><rect x="88.6" y="55.71" width="44.4" height="5.57" class="r"/>
<rect x="0" y="61.29" width="44.3" height="5.57" class="B"/><rect x="44.3" y="61.29" width="44.3" height="5.57" class="P"/><rect x="88.6" y="61.29" width="44.4" height="5.57" class="r"/>
<rect x="0" y="66.86" width="44.3" height="5.57" class="b"/><rect x="44.3" y="66.86" width="44.3" height="5.57" class="Y"/><rect x="88.6" y="66.86" width="44.4" height="5.57" class="R"/>
<rect x="0" y="72.43" width="44.3" height="5.57" class="b"/><rect x="44.3" y="72.43" width="44.3" height="5.57" class="S"/><rect x="88.6" y="72.43" width="44.4" height="5.57" class="R"/>
</g>
<g class="hm" transform="translate(1144,355)">
<rect x="0" y="0" width="44.3" height="9.67" class="G"/><rect x="44.3" y="0" width="44.3" height="9.67" class="G"/><rect x="88.6" y="0" width="44.4" height="9.67" class="R"/>
<rect x="0" y="9.67" width="44.3" height="9.67" class="B"/><rect x="44.3" y="9.67" width="44.3" height="9.67" class="P"/><rect x="88.6" y="9.67" width="44.4" height="9.67" class="r"/>
<rect x="0" y="19.33" width="44.3" height="9.67" class="o"/><rect x="44.3" y="19.33" width="44.3" height="9.67" class="B"/><rect x="88.6" y="19.33" width="44.4" height="9.67" class="O"/>
<rect x="0" y="29" width="44.3" height="9.67" class="R"/><rect x="44.3" y="29" width="44.3" height="9.67" class="b"/><rect x="88.6" y="29" width="44.4" height="9.67" class="S"/>
<rect x="0" y="38.67" width="44.3" height="9.67" class="R"/><rect x="44.3" y="38.67" width="44.3" height="9.67" class="S"/><rect x="88.6" y="38.67" width="44.4" height="9.67" class="b"/>
<rect x="0" y="48.33" width="44.3" height="9.67" class="R"/><rect x="44.3" y="48.33" width="44.3" height="9.67" class="G"/><rect x="88.6" y="48.33" width="44.4" height="9.67" class="G"/>
</g>
<!-- E -->
<g class="hm" transform="translate(1440,83)">
<rect x="0" y="0" width="34" height="5.1" class="r"/><rect x="34" y="0" width="34" height="5.1" class="B"/><rect x="68" y="0" width="34" height="5.1" class="Y"/>
<rect x="0" y="5.1" width="34" height="5.1" class="R"/><rect x="34" y="5.1" width="34" height="5.1" class="B"/><rect x="68" y="5.1" width="34" height="5.1" class="Y"/>
<rect x="0" y="10.2" width="34" height="5.1" class="r"/><rect x="34" y="10.2" width="34" height="5.1" class="B"/><rect x="68" y="10.2" width="34" height="5.1" class="P"/>
<rect x="0" y="15.3" width="34" height="5.1" class="r"/><rect x="34" y="15.3" width="34" height="5.1" class="B"/><rect x="68" y="15.3" width="34" height="5.1" class="P"/>
<rect x="0" y="20.4" width="34" height="5.1" class="r"/><rect x="34" y="20.4" width="34" height="5.1" class="B"/><rect x="68" y="20.4" width="34" height="5.1" class="P"/>
<rect x="0" y="25.5" width="34" height="5.1" class="R"/><rect x="34" y="25.5" width="34" height="5.1" class="P"/><rect x="68" y="25.5" width="34" height="5.1" class="B"/>
<rect x="0" y="30.6" width="34" height="5.1" class="R"/><rect x="34" y="30.6" width="34" height="5.1" class="G"/><rect x="68" y="30.6" width="34" height="5.1" class="G"/>
<rect x="0" y="35.7" width="34" height="5.1" class="R"/><rect x="34" y="35.7" width="34" height="5.1" class="G"/><rect x="68" y="35.7" width="34" height="5.1" class="b"/>
<rect x="0" y="40.8" width="34" height="5.1" class="R"/><rect x="34" y="40.8" width="34" height="5.1" class="G"/><rect x="68" y="40.8" width="34" height="5.1" class="G"/>
<rect x="0" y="45.9" width="34" height="5.1" class="b"/><rect x="34" y="45.9" width="34" height="5.1" class="S"/><rect x="68" y="45.9" width="34" height="5.1" class="R"/>
<rect x="0" y="51" width="34" height="5.1" class="b"/><rect x="34" y="51" width="34" height="5.1" class="Y"/><rect x="68" y="51" width="34" height="5.1" class="R"/>
<rect x="0" y="56.1" width="34" height="5.1" class="G"/><rect x="34" y="56.1" width="34" height="5.1" class="R"/><rect x="68" y="56.1" width="34" height="5.1" class="S"/>
<rect x="0" y="61.2" width="34" height="5.1" class="B"/><rect x="34" y="61.2" width="34" height="5.1" class="r"/><rect x="68" y="61.2" width="34" height="5.1" class="P"/>
<rect x="0" y="66.3" width="34" height="5.1" class="B"/><rect x="34" y="66.3" width="34" height="5.1" class="r"/><rect x="68" y="66.3" width="34" height="5.1" class="P"/>
<rect x="0" y="71.4" width="34" height="5.1" class="B"/><rect x="34" y="71.4" width="34" height="5.1" class="r"/><rect x="68" y="71.4" width="34" height="5.1" class="P"/>
<rect x="0" y="76.5" width="34" height="5.1" class="B"/><rect x="34" y="76.5" width="34" height="5.1" class="r"/><rect x="68" y="76.5" width="34" height="5.1" class="P"/>
<rect x="0" y="81.6" width="34" height="5.1" class="B"/><rect x="34" y="81.6" width="34" height="5.1" class="o"/><rect x="68" y="81.6" width="34" height="5.1" class="o"/>
<rect x="0" y="86.7" width="34" height="5.1" class="B"/><rect x="34" y="86.7" width="34" height="5.1" class="o"/><rect x="68" y="86.7" width="34" height="5.1" class="P"/>
<rect x="0" y="91.8" width="34" height="5.1" class="B"/><rect x="34" y="91.8" width="34" height="5.1" class="o"/><rect x="68" y="91.8" width="34" height="5.1" class="P"/>
<rect x="0" y="96.9" width="34" height="5.1" class="B"/><rect x="34" y="96.9" width="34" height="5.1" class="O"/><rect x="68" y="96.9" width="34" height="5.1" class="P"/>
</g>
<g class="hm" transform="translate(1440,191)"><rect x="0" y="0" width="34" height="11" class="R"/><rect x="34" y="0" width="34" height="11" class="B"/><rect x="68" y="0" width="34" height="11" class="r"/></g>
<g class="hm" transform="translate(1440,332)"><rect x="0" y="0" width="37" height="11" class="B"/><rect x="37" y="0" width="37" height="11" class="R"/><rect x="74" y="0" width="37" height="11" class="P"/></g>
<g class="hm" transform="translate(1440,392)">
<rect x="0" y="0" width="38.3" height="8" class="P"/><rect x="38.3" y="0" width="38.3" height="8" class="B"/><rect x="76.6" y="0" width="38.4" height="8" class="r"/>
<rect x="0" y="8" width="38.3" height="8" class="b"/><rect x="38.3" y="8" width="38.3" height="8" class="R"/><rect x="76.6" y="8" width="38.4" height="8" class="S"/>
<rect x="0" y="16" width="38.3" height="8" class="b"/><rect x="38.3" y="16" width="38.3" height="8" class="R"/><rect x="76.6" y="16" width="38.4" height="8" class="Y"/>
<rect x="0" y="24" width="38.3" height="8" class="b"/><rect x="38.3" y="24" width="38.3" height="8" class="R"/><rect x="76.6" y="24" width="38.4" height="8" class="Y"/>
</g>
<!-- F -->
<g class="hm" transform="translate(737,582)">
<rect x="0" y="0" width="38" height="10.33" class="r"/><rect x="38" y="0" width="38" height="10.33" class="Y"/><rect x="76" y="0" width="38" height="10.33" class="B"/>
<rect x="0" y="10.33" width="38" height="10.33" class="r"/><rect x="38" y="10.33" width="38" height="10.33" class="S"/><rect x="76" y="10.33" width="38" height="10.33" class="b"/>
<rect x="0" y="20.67" width="38" height="10.33" class="R"/><rect x="38" y="20.67" width="38" height="10.33" class="G"/><rect x="76" y="20.67" width="38" height="10.33" class="b"/>
</g>
<g class="hm" transform="translate(895,580)">
<rect x="0" y="0" width="42.3" height="9.25" class="R"/><rect x="42.3" y="0" width="42.3" height="9.25" class="b"/><rect x="84.6" y="0" width="42.4" height="9.25" class="Y"/>
<rect x="0" y="9.25" width="42.3" height="9.25" class="B"/><rect x="42.3" y="9.25" width="42.3" height="9.25" class="r"/><rect x="84.6" y="9.25" width="42.4" height="9.25" class="P"/>
<rect x="0" y="18.5" width="42.3" height="9.25" class="G"/><rect x="42.3" y="18.5" width="42.3" height="9.25" class="R"/><rect x="84.6" y="18.5" width="42.4" height="9.25" class="b"/>
<rect x="0" y="27.75" width="42.3" height="9.25" class="b"/><rect x="42.3" y="27.75" width="42.3" height="9.25" class="R"/><rect x="84.6" y="27.75" width="42.4" height="9.25" class="S"/>
</g>
<g class="hm" transform="translate(738,680)"><rect x="0" y="0" width="40.3" height="14" class="B"/><rect x="40.3" y="0" width="40.3" height="14" class="R"/><rect x="80.6" y="0" width="40.4" height="14" class="o"/></g>
<g class="hm" transform="translate(1016,682)">
<rect x="0" y="0" width="37" height="8.2" class="R"/><rect x="37" y="0" width="37" height="8.2" class="G"/><rect x="74" y="0" width="37" height="8.2" class="G"/>
<rect x="0" y="8.2" width="37" height="8.2" class="R"/><rect x="37" y="8.2" width="37" height="8.2" class="B"/><rect x="74" y="8.2" width="37" height="8.2" class="S"/>
<rect x="0" y="16.4" width="37" height="8.2" class="B"/><rect x="37" y="16.4" width="37" height="8.2" class="Y"/><rect x="74" y="16.4" width="37" height="8.2" class="r"/>
<rect x="0" y="24.6" width="37" height="8.2" class="G"/><rect x="37" y="24.6" width="37" height="8.2" class="G"/><rect x="74" y="24.6" width="37" height="8.2" class="R"/>
<rect x="0" y="32.8" width="37" height="8.2" class="G"/><rect x="37" y="32.8" width="37" height="8.2" class="b"/><rect x="74" y="32.8" width="37" height="8.2" class="R"/>
</g>
<g class="hm" transform="translate(888,784)">
<rect x="0" y="0" width="38.3" height="10.67" class="B"/><rect x="38.3" y="0" width="38.3" height="10.67" class="r"/><rect x="76.6" y="0" width="38.4" height="10.67" class="P"/>
<rect x="0" y="10.67" width="38.3" height="10.67" class="R"/><rect x="38.3" y="10.67" width="38.3" height="10.67" class="G"/><rect x="76.6" y="10.67" width="38.4" height="10.67" class="G"/>
<rect x="0" y="21.33" width="38.3" height="10.67" class="R"/><rect x="38.3" y="21.33" width="38.3" height="10.67" class="b"/><rect x="76.6" y="21.33" width="38.4" height="10.67" class="S"/>
</g>
<g class="hm" transform="translate(670,782)">
<rect x="0" y="0" width="36" height="6.57" class="b"/><rect x="36" y="0" width="36" height="6.57" class="S"/><rect x="72" y="0" width="36" height="6.57" class="R"/>
<rect x="0" y="6.57" width="36" height="6.57" class="B"/><rect x="36" y="6.57" width="36" height="6.57" class="r"/><rect x="72" y="6.57" width="36" height="6.57" class="P"/>
<rect x="0" y="13.14" width="36" height="6.57" class="R"/><rect x="36" y="13.14" width="36" height="6.57" class="b"/><rect x="72" y="13.14" width="36" height="6.57" class="S"/>
<rect x="0" y="19.71" width="36" height="6.57" class="R"/><rect x="36" y="19.71" width="36" height="6.57" class="S"/><rect x="72" y="19.71" width="36" height="6.57" class="b"/>
<rect x="0" y="26.29" width="36" height="6.57" class="S"/><rect x="36" y="26.29" width="36" height="6.57" class="R"/><rect x="72" y="26.29" width="36" height="6.57" class="b"/>
<rect x="0" y="32.86" width="36" height="6.57" class="r"/><rect x="36" y="32.86" width="36" height="6.57" class="P"/><rect x="72" y="32.86" width="36" height="6.57" class="B"/>
<rect x="0" y="39.43" width="36" height="6.57" class="r"/><rect x="36" y="39.43" width="36" height="6.57" class="P"/><rect x="72" y="39.43" width="36" height="6.57" class="B"/>
</g>
</g>

<!-- sample labels -->
<g id="sample-labels" class="lb">
<g font-size="19"><text x="193" y="682">CK</text><text x="241" y="682">L1</text><text x="295" y="680">L2</text></g>
<g font-size="18"><text x="537" y="314">CK</text><text x="570" y="313">L1</text><text x="601" y="314">L2</text></g>
<g font-size="18"><text x="447" y="389">CK</text><text x="479" y="388">L1</text><text x="512" y="388">L2</text></g>
<g font-size="18"><text x="597" y="465">CK</text><text x="628" y="465">L1</text><text x="658" y="464">L2</text></g>
<g font-size="19"><text x="878" y="387">CK</text><text x="928" y="387">L1</text><text x="974" y="387">L2</text></g>
<g font-size="19"><text x="1162" y="429">CK</text><text x="1212" y="429">L1</text><text x="1257" y="429">L2</text></g>
<g font-size="19"><text x="1459" y="441">CK</text><text x="1497" y="441">L1</text><text x="1540" y="441">L2</text></g>
<g font-size="19"><text x="757" y="631">CK</text><text x="795" y="631">L1</text><text x="830" y="631">L2</text></g>
<g font-size="19"><text x="918" y="633">CK</text><text x="961" y="633">L1</text><text x="1001" y="633">L2</text></g>
<g font-size="19"><text x="759" y="711">CK</text><text x="801" y="711">L1</text><text x="841" y="711">L2</text></g>
<g font-size="19"><text x="1030" y="739">CK</text><text x="1073" y="739">L1</text><text x="1113" y="739">L2</text></g>
<g font-size="19"><text x="905" y="834">CK</text><text x="947" y="834">L1</text><text x="987" y="834">L2</text></g>
<g font-size="19"><text x="682" y="845">CK</text><text x="723" y="845">L1</text><text x="765" y="845">L2</text></g>
</g>
</svg>
